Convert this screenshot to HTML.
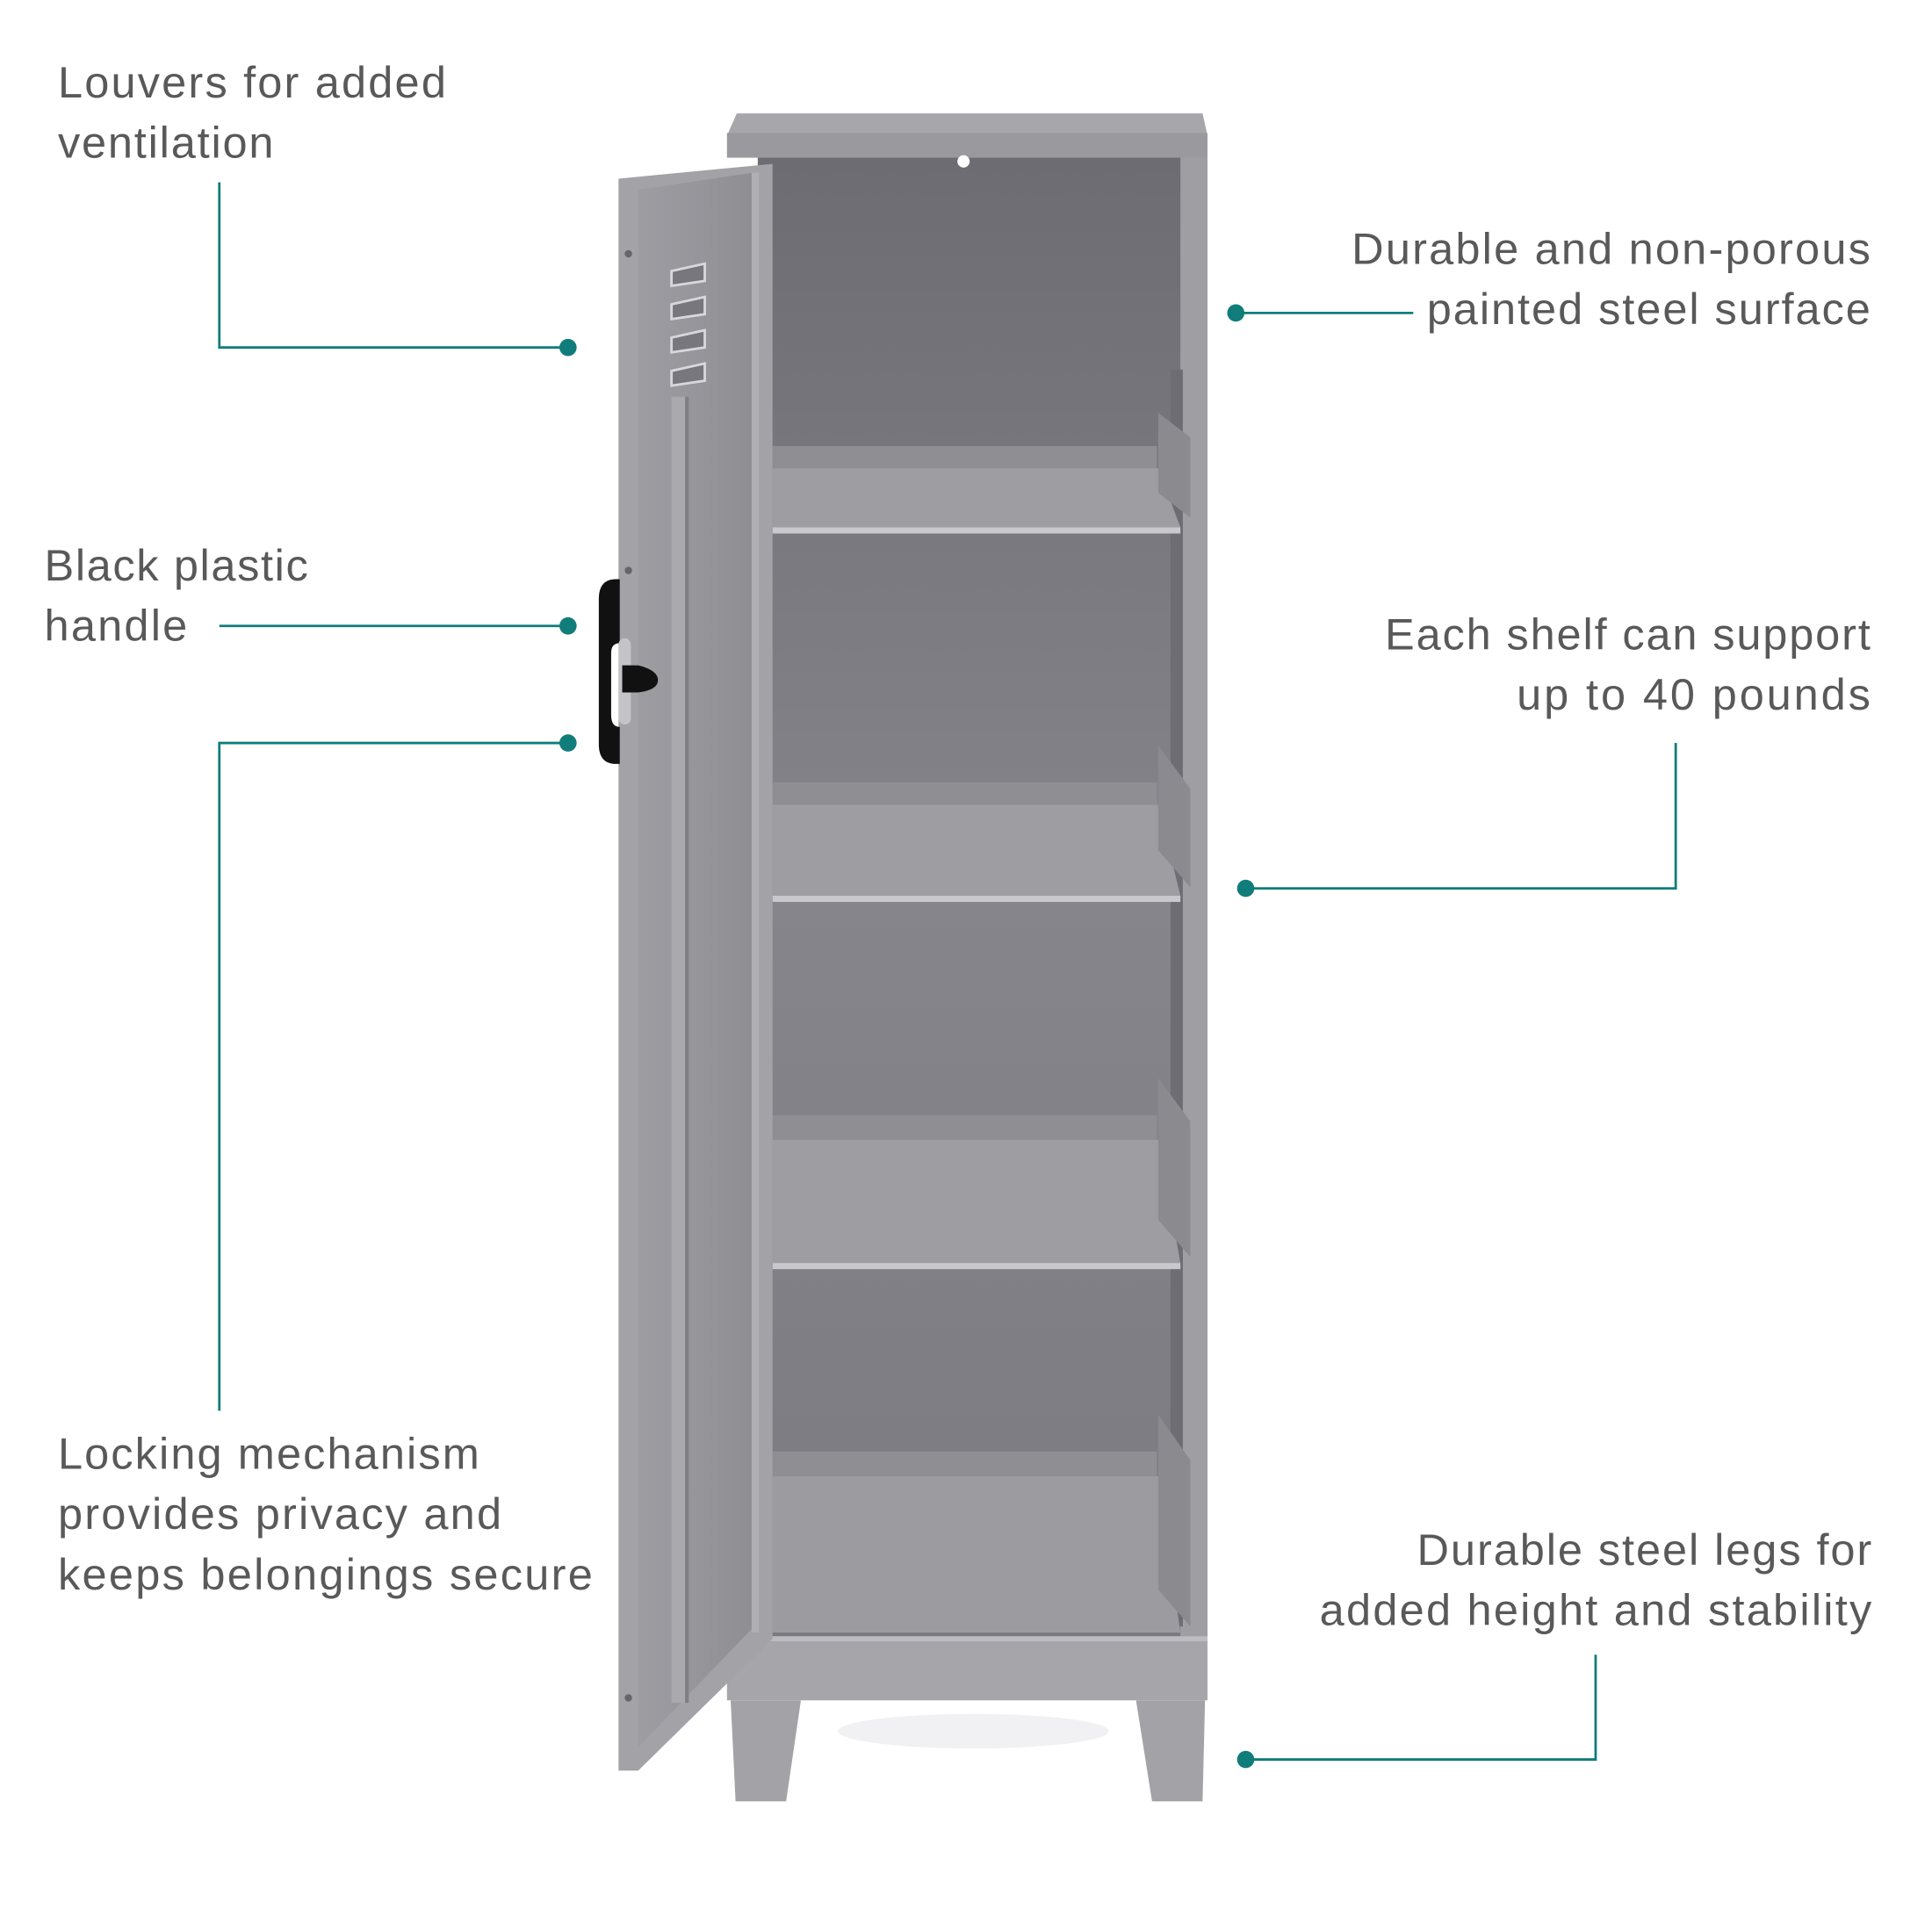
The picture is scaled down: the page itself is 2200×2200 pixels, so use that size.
<!DOCTYPE html>
<html><head><meta charset="utf-8"><style>
html,body{margin:0;padding:0;background:#fff;}
svg{display:block;}
text{font-family:"Liberation Sans",sans-serif;font-size:36px;fill:#595959;}
</style></head><body>
<svg width="2200" height="2200" viewBox="0 0 1568 1568" xmlns="http://www.w3.org/2000/svg">
<defs>
<linearGradient id="back" x1="0" y1="0" x2="0" y2="1">
<stop offset="0" stop-color="#6c6c72"/><stop offset="0.5" stop-color="#85858b"/><stop offset="1" stop-color="#7a7a80"/>
</linearGradient>
<linearGradient id="door" x1="0" y1="0" x2="1" y2="0">
<stop offset="0" stop-color="#9d9da2"/><stop offset="1" stop-color="#8e8e93"/>
</linearGradient>
</defs>
<rect width="1568" height="1568" fill="#fff"/>

<rect x="615" y="125" width="350" height="1210" fill="url(#back)"/>
<rect x="958" y="126" width="22" height="1210" fill="#9e9ea3"/>
<rect x="950" y="300" width="10" height="1020" fill="#6d6d73"/>
<polygon points="598,92 976,92 980,110 590,110" fill="#a7a7ab"/>
<rect x="590" y="108" width="390" height="20" fill="#9a9a9e"/>
<circle cx="782" cy="131" r="5" fill="#fff"/>

<g>
<rect x="627" y="362" width="312" height="18" fill="#8e8e93"/>
<polygon points="627,380 940,380 958,428 627,428" fill="#9d9da2"/>
<rect x="627" y="428" width="331" height="5" fill="#c9c9cd"/>
<polygon points="940,335 966,355 966,420 940,400" fill="#8a8a8f"/>

<rect x="627" y="635" width="312" height="18" fill="#8e8e93"/>
<polygon points="627,653 940,653 958,727 627,727" fill="#9d9da2"/>
<rect x="627" y="727" width="331" height="5" fill="#c9c9cd"/>
<polygon points="940,605 966,640 966,720 940,690" fill="#8a8a8f"/>

<rect x="627" y="905" width="312" height="20" fill="#8e8e93"/>
<polygon points="627,925 940,925 958,1025 627,1025" fill="#9d9da2"/>
<rect x="627" y="1025" width="331" height="5" fill="#c9c9cd"/>
<polygon points="940,875 966,910 966,1020 940,990" fill="#8a8a8f"/>

<rect x="627" y="1178" width="312" height="20" fill="#8e8e93"/>
<polygon points="627,1198 940,1198 958,1325 627,1325" fill="#9b9ba0"/>
<polygon points="940,1148 966,1185 966,1320 940,1290" fill="#8a8a8f"/>
</g>

<rect x="590" y="1328" width="390" height="52" fill="#a6a6aa"/>
<rect x="590" y="1328" width="390" height="4" fill="#bdbdc1"/>
<polygon points="593,1380 650,1380 638,1462 597,1462" fill="#a3a3a7"/>
<polygon points="922,1380 978,1380 976,1462 935,1462" fill="#a3a3a7"/>
<ellipse cx="790" cy="1405" rx="110" ry="14" fill="#f1f1f3"/>

<polygon points="502,145 627,133 627,1330 518,1437 502,1437" fill="#a2a2a7"/>
<polygon points="518,154 612,140 612,1320 518,1418" fill="url(#door)"/>
<rect x="545" y="322" width="11" height="1060" fill="#a9a9ae"/>
<rect x="556" y="322" width="3" height="1060" fill="#7f7f85"/>
<rect x="610" y="140" width="6" height="1185" fill="#b0b0b4"/>
<g fill="#77777d" stroke="#d8d8dc" stroke-width="2">
<polygon points="545,220 572,214 572,228 545,232"/>
<polygon points="545,247 572,241 572,255 545,259"/>
<polygon points="545,274 572,268 572,282 545,286"/>
<polygon points="545,301 572,295 572,309 545,313"/>
</g>
<circle cx="510" cy="206" r="3" fill="#666"/>
<circle cx="510" cy="463" r="3" fill="#666"/>
<circle cx="510" cy="1378" r="3" fill="#666"/>
<path d="M500,470 Q486,470 486,486 L486,604 Q486,620 500,620 L503,620 L503,590 Q496,590 496,580 L496,530 Q496,522 503,522 L503,470 Z" fill="#111"/>
<rect x="502" y="518" width="10" height="70" rx="5" fill="#c4c4c8"/>
<path d="M505,540 L518,540 Q534,544 534,552 Q534,560 518,562 L505,562 Z" fill="#111"/>

<g stroke="#117d7b" stroke-width="2" fill="none">
<polyline points="178,148 178,282 461,282"/>
<line x1="178" y1="508" x2="461" y2="508"/>
<polyline points="178,1145 178,603 461,603"/>
<line x1="1003" y1="254" x2="1147" y2="254"/>
<polyline points="1011,721 1360,721 1360,603"/>
<polyline points="1011,1428 1295,1428 1295,1343"/>
</g>
<g fill="#117d7b">
<circle cx="461" cy="282" r="7"/>
<circle cx="461" cy="508" r="7"/>
<circle cx="461" cy="603" r="7"/>
<circle cx="1003" cy="254" r="7"/>
<circle cx="1011" cy="721" r="7"/>
<circle cx="1011" cy="1428" r="7"/>
</g>

<text x="47" y="79" textLength="315">Louvers for added</text>
<text x="47" y="128" textLength="175">ventilation</text>
<text x="36" y="471" textLength="214">Black plastic</text>
<text x="36" y="520" textLength="116">handle</text>
<text x="47" y="1192" textLength="342">Locking mechanism</text>
<text x="47" y="1241" textLength="360">provides privacy and</text>
<text x="47" y="1290" textLength="434">keeps belongings secure</text>
<text x="1097" y="214" textLength="421">Durable and non-porous</text>
<text x="1158" y="263" textLength="360">painted steel surface</text>
<text x="1124" y="527" textLength="394">Each shelf can support</text>
<text x="1231" y="576" textLength="287">up to 40 pounds</text>
<text x="1150" y="1270" textLength="369">Durable steel legs for</text>
<text x="1071" y="1319" textLength="448">added height and stability</text>
</svg>
</body></html>
